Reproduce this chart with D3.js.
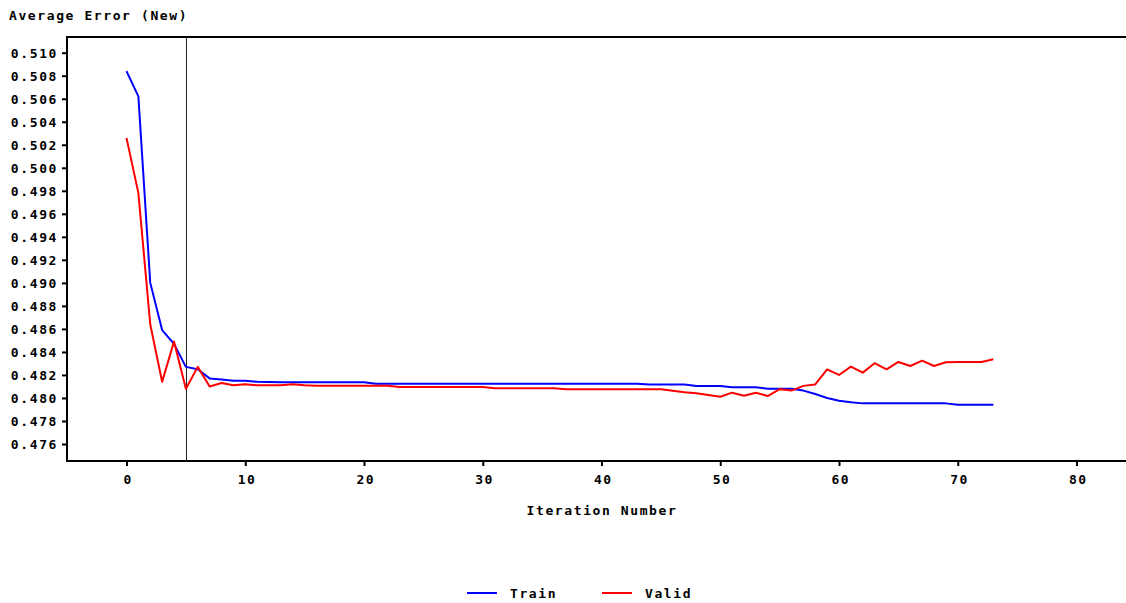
<html>
<head>
	<script src="https://cdn.jsdelivr.net/npm/d3@7"></script>
	<style type="text/css">
	body { margin: 0; background: #fff; }
	text { font-family: "DejaVu Sans Mono", monospace; font-weight: bold; font-size: 13px; letter-spacing: 1.6px; fill: #000; }
	</style>
</head>
<body>
<script type="text/javascript">
	// data
	var iterations = d3.range(0, 74);
	var train = [0.5084, 0.5062, 0.4900, 0.4859, 0.4847, 0.4827, 0.4825, 0.4817, 0.4816, 0.4815,
		0.4815, 0.4814, 0.48138, 0.48136, 0.48136, 0.48136, 0.48136, 0.48136, 0.48136, 0.48136,
		0.48136, 0.48124, 0.48124, 0.48124, 0.48124, 0.48124, 0.48124, 0.48124, 0.48124, 0.48124,
		0.48124, 0.48124, 0.48124, 0.48124, 0.48124, 0.48124, 0.48124, 0.48124, 0.48124, 0.48124,
		0.48124, 0.48124, 0.48124, 0.48124, 0.48116, 0.48116, 0.48116, 0.48116, 0.48104, 0.48104,
		0.48104, 0.48093, 0.48093, 0.48093, 0.48081, 0.48081, 0.48081, 0.48064, 0.48034, 0.48000,
		0.47976, 0.47962, 0.47953, 0.47953, 0.47953, 0.47953, 0.47953, 0.47953, 0.47953, 0.47953,
		0.47941, 0.47941, 0.47941, 0.47941];
	var valid = [0.5026, 0.4978, 0.4864, 0.4814, 0.4849, 0.4808, 0.4827, 0.4810, 0.4813, 0.4811,
		0.4812, 0.4811, 0.4811, 0.4811, 0.4812, 0.4811, 0.48107, 0.48107, 0.48107, 0.48107,
		0.48107, 0.48107, 0.48107, 0.48096, 0.48096, 0.48096, 0.48096, 0.48096, 0.48096, 0.48096,
		0.48096, 0.48084, 0.48084, 0.48084, 0.48084, 0.48084, 0.48084, 0.48076, 0.48076, 0.48076,
		0.48076, 0.48076, 0.48076, 0.48076, 0.48076, 0.48076, 0.48063, 0.48050, 0.48041, 0.48026,
		0.48011, 0.48046, 0.48020, 0.48046, 0.48017, 0.48076, 0.48064, 0.48105, 0.48118, 0.48249,
		0.48200, 0.48272, 0.48220, 0.48302, 0.48249, 0.48313, 0.48278, 0.48324, 0.48278, 0.48310,
		0.48313, 0.48313, 0.48313, 0.48336];
	var yTicks = d3.range(0.476, 0.5105, 0.002);
	var xTicks = [0, 10, 20, 30, 40, 50, 60, 70, 80];
	var selectedIter = 5;
	var seriesNames = ["Train", "Valid"];
	var seriesColors = ["#0000ff", "#ff0000"];

	var w = 1126;
	var h = 603;
	var frameL = 67, frameT = 37, frameB = 461;

	var svg = d3.select("body")
		.append("svg")
		.attr("width", w)
		.attr("height", h);

	var x = d3.scaleLinear().domain([0, 80]).range([126.5, 1076.5]);
	var y = d3.scaleLinear().domain([0.476, 0.510]).range([444, 52.7]);

	// title
	svg.append("text")
		.text("Average Error (New)")
		.attr("x", 9)
		.attr("y", 20);

	// y axis
	var yAxis = svg.append("g")
		.attr("transform", "translate(" + frameL + ",0)")
		.call(d3.axisLeft(y).tickValues(yTicks).tickFormat(d3.format(".3f")).tickSize(5).tickPadding(4));
	yAxis.select(".domain").remove();
	yAxis.selectAll(".tick line").attr("stroke", "#000").attr("stroke-width", 2);
	yAxis.selectAll(".tick text").attr("font-size", null).attr("font-family", null).attr("dy", "0.36em");

	// x axis
	var xAxis = svg.append("g")
		.attr("transform", "translate(0," + frameB + ")")
		.call(d3.axisBottom(x).tickValues(xTicks).tickSize(5).tickPadding(9));
	xAxis.select(".domain").remove();
	xAxis.selectAll(".tick line").attr("stroke", "#000").attr("stroke-width", 2);
	xAxis.selectAll(".tick text").attr("font-size", null).attr("font-family", null).attr("dx", "0.1em");

	// frame: top, left, bottom (no right side)
	svg.append("path")
		.attr("d", "M" + w + "," + frameT + "H" + frameL + "V" + frameB + "H" + w)
		.attr("fill", "none")
		.attr("stroke", "#000")
		.attr("stroke-width", 2);

	// reference line at chosen iteration
	svg.append("line")
		.attr("x1", Math.round(x(selectedIter)) + 0.5)
		.attr("x2", Math.round(x(selectedIter)) + 0.5)
		.attr("y1", frameT)
		.attr("y2", frameB)
		.attr("stroke", "#222")
		.attr("stroke-width", 1);

	// series lines
	var line = d3.line()
		.x(function(d, i) { return x(iterations[i]); })
		.y(function(d) { return y(d); });

	[train, valid].forEach(function(s, k) {
		svg.append("path")
			.datum(s)
			.attr("d", line)
			.attr("fill", "none")
			.attr("stroke", seriesColors[k])
			.attr("stroke-width", 2)
			.attr("stroke-linejoin", "round");
	});

	// x label
	svg.append("text")
		.text("Iteration Number")
		.attr("text-anchor", "middle")
		.attr("x", 602)
		.attr("y", 515);

	// legend
	var legX = [467, 602];
	seriesNames.forEach(function(n, k) {
		svg.append("line")
			.attr("x1", legX[k])
			.attr("x2", legX[k] + 30)
			.attr("y1", 593)
			.attr("y2", 593)
			.attr("stroke", seriesColors[k])
			.attr("stroke-width", 2);
		svg.append("text")
			.text(n)
			.attr("x", legX[k] + 43)
			.attr("y", 598);
	});
</script>
</body>
</html>
